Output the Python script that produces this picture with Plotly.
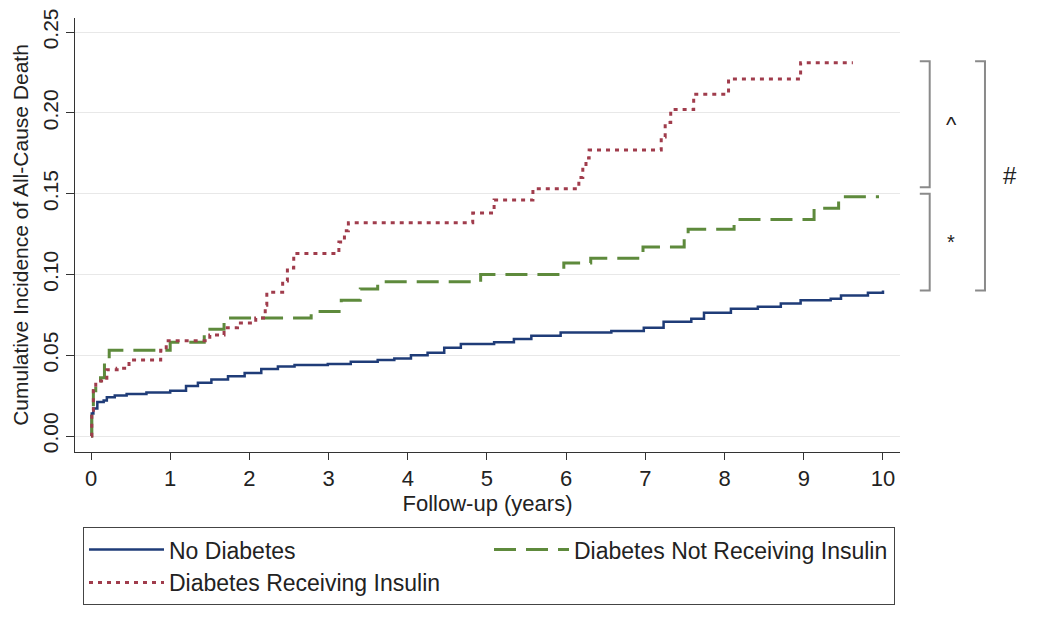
import plotly.graph_objects as go

# ---- data ----
blue_x = [0, 0.01, 0.03, 0.08, 0.16, 0.2, 0.3, 0.45, 0.7, 1.0, 1.2, 1.35, 1.52, 1.73, 1.94,
          2.15, 2.36, 2.57, 2.99, 3.28, 3.62, 3.83, 4.04, 4.25, 4.46, 4.67, 5.09, 5.34, 5.56,
          5.93, 6.57, 6.98, 7.23, 7.58, 7.74, 8.08, 8.42, 8.71, 8.96, 9.34, 9.47, 9.81, 10.0]
blue_y = [0, 0.014, 0.017, 0.021, 0.022, 0.024, 0.025, 0.026, 0.027, 0.028, 0.031, 0.033, 0.035,
          0.037, 0.039, 0.0415, 0.043, 0.044, 0.0446, 0.046, 0.047, 0.048, 0.050, 0.0515, 0.0546,
          0.057, 0.058, 0.060, 0.062, 0.064, 0.065, 0.067, 0.0707, 0.0725, 0.0763, 0.0788, 0.080,
          0.082, 0.084, 0.085, 0.087, 0.0887, 0.090]

green_x = [0, 0.01, 0.03, 0.06, 0.12, 0.17, 0.23, 1.0, 1.43, 1.68, 2.78, 3.16, 3.4, 3.62, 4.92,
           5.97, 6.31, 6.97, 7.49, 7.54, 8.12, 9.13, 9.44, 9.95]
green_y = [0, 0.016, 0.028, 0.034, 0.036, 0.045, 0.053, 0.058, 0.066, 0.073, 0.077, 0.084, 0.091,
           0.0955, 0.100, 0.107, 0.110, 0.117, 0.123, 0.128, 0.134, 0.141, 0.148, 0.148]

red_x = [0, 0.01, 0.03, 0.06, 0.2, 0.33, 0.48, 0.88, 0.95, 1.5, 1.68, 1.85, 2.08, 2.2, 2.22, 2.42,
         2.48, 2.56, 3.13, 3.2, 3.25, 4.82, 5.09, 5.58, 6.16, 6.21, 6.25, 6.29, 7.2, 7.25, 7.32,
         7.61, 8.05, 8.96, 9.62]
red_y = [0, 0.016, 0.028, 0.034, 0.041, 0.042, 0.047, 0.053, 0.059, 0.0625, 0.067, 0.070, 0.073,
         0.081, 0.089, 0.096, 0.104, 0.113, 0.120, 0.127, 0.132, 0.138, 0.146, 0.153, 0.160, 0.166,
         0.172, 0.177, 0.185, 0.194, 0.202, 0.2115, 0.221, 0.231, 0.231]

x_ticks = [0, 1, 2, 3, 4, 5, 6, 7, 8, 9, 10]
y_ticks = [0.00, 0.05, 0.10, 0.15, 0.20, 0.25]
y_tick_labels = ["0.00", "0.05", "0.10", "0.15", "0.20", "0.25"]

bracket_levels = {"^": (0.232, 0.154), "*": (0.150, 0.090), "#": (0.232, 0.090)}

FONT = "Liberation Sans, Arial, sans-serif"

fig = go.Figure()
fig.add_trace(go.Scatter(x=blue_x, y=blue_y, mode="lines", name="No Diabetes",
                         line=dict(color="#1f3c78", width=2.5, shape="hv")))
fig.add_trace(go.Scatter(x=green_x, y=green_y, mode="lines", name="Diabetes Not Receiving Insulin",
                         line=dict(color="#5e8a3c", width=3, shape="hv", dash="22px,10px")))
fig.add_trace(go.Scatter(x=red_x, y=red_y, mode="lines", name="Diabetes Receiving Insulin",
                         line=dict(color="#a03c4c", width=3, shape="hv", dash="4px,5px")))

axis_col = "#333333"
fig.update_layout(
    width=1042, height=624,
    margin=dict(l=67, r=150, t=10, b=180, autoexpand=False),
    paper_bgcolor="white", plot_bgcolor="white",
    font=dict(family=FONT, size=22, color="#222222"),
    xaxis=dict(range=[-0.202, 10.215], tickvals=x_ticks, showgrid=False, zeroline=False,
               showline=True, linecolor=axis_col, linewidth=1, automargin=False,
               ticks="outside", ticklen=7, tickcolor=axis_col,
               tickfont=dict(size=22),
               title=dict(text="Follow-up (years)", font=dict(size=22), standoff=0)),
    yaxis=dict(range=[-0.0099, 0.2587], tickvals=y_ticks, ticktext=y_tick_labels,
               tickangle=-90, showgrid=True, gridcolor="#e8e8e8", gridwidth=1,
               zeroline=False, showline=True, linecolor=axis_col, linewidth=1, automargin=False,
               ticks="outside", ticklen=8, tickcolor=axis_col,
               tickfont=dict(size=21),
               title=dict(text="Cumulative Incidence of All-Cause Death", font=dict(size=21),
                          standoff=4)),
    legend=dict(orientation="h", x=0.0097, xanchor="left", y=-0.173, yanchor="top",
                bordercolor="#444444", borderwidth=1, bgcolor="white",
                font=dict(size=23, color="#222222"),
                entrywidth=315, entrywidthmode="pixels", itemwidth=75,
                traceorder="normal"),
)

# brackets on the right
def bracket(x_tick, x_line, top, bot):
    fig.add_shape(type="path", xref="paper", yref="y",
                  path=f"M {x_tick},{top} L {x_line},{top} L {x_line},{bot} L {x_tick},{bot}",
                  line=dict(color="#8a8a8a", width=2))

t1, b1 = bracket_levels["^"]
t2, b2 = bracket_levels["*"]
t3, b3 = bracket_levels["#"]
bracket(1.024, 1.036, t1, b1)
bracket(1.024, 1.036, t2, b2)
bracket(1.091, 1.103, t3, b3)

fig.add_annotation(x=1.063, y=(t1 + b1) / 2, xref="paper", yref="y", text="^", showarrow=False,
                   xanchor="center", yanchor="middle", font=dict(size=22, color="#222222"))
fig.add_annotation(x=1.062, y=(t2 + b2) / 2, xref="paper", yref="y", text="*", showarrow=False,
                   xanchor="center", yanchor="middle", font=dict(size=20, color="#222222"))
fig.add_annotation(x=1.133, y=(t3 + b3) / 2, xref="paper", yref="y", text="#", showarrow=False,
                   xanchor="center", yanchor="middle", font=dict(size=24, color="#222222"))

fig.write_html("out.html")
